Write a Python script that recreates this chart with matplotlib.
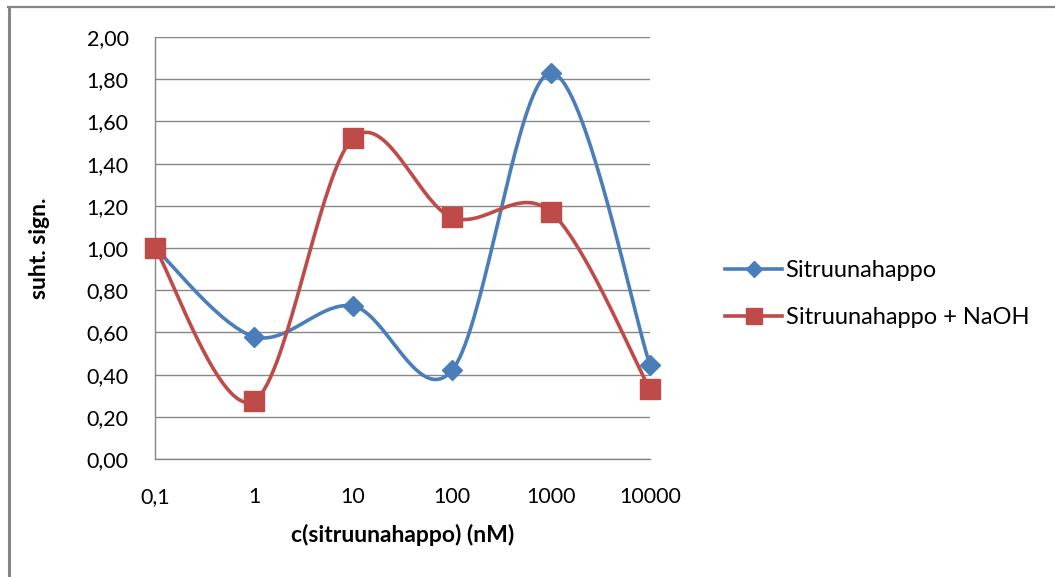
import numpy as np
import matplotlib
matplotlib.use("Agg")
import matplotlib.pyplot as plt
from matplotlib.lines import Line2D

categories = ["0,1", "1", "10", "100", "1000", "10000"]
sitruuna = [1.00, 0.58, 0.725, 0.42, 1.83, 0.445]
sitruuna_naoh = [1.00, 0.275, 1.52, 1.145, 1.17, 0.33]
y_ticks = [0.0, 0.2, 0.4, 0.6, 0.8, 1.0, 1.2, 1.4, 1.6, 1.8, 2.0]
series_names = ["Sitruunahappo", "Sitruunahappo + NaOH"]
x_label = "c(sitruunahappo) (nM)"
y_label = "suht. sign."

BLUE = "#4A7EBB"
RED = "#BE4B48"
GRID = "#868686"
FONT = "Lato"
TICK_FS = 15.5
LEG_FS = 17
LAB_FS = 16.5


def smooth(xs, ys, n=40):
    """Excel-like smoothing: Catmull-Rom converted to cubic Bezier."""
    P = np.column_stack([xs, ys]).astype(float)
    pts = []
    for i in range(len(P) - 1):
        p0 = P[i - 1] if i > 0 else P[i]
        p1 = P[i]
        p2 = P[i + 1]
        p3 = P[i + 2] if i + 2 < len(P) else P[i + 1]
        c1 = p1 + (p2 - p0) / 6.0
        c2 = p2 - (p3 - p1) / 6.0
        t = np.linspace(0, 1, n)[:, None]
        seg = ((1 - t) ** 3) * p1 + 3 * ((1 - t) ** 2) * t * c1 + 3 * (1 - t) * t ** 2 * c2 + t ** 3 * p2
        if i > 0:
            seg = seg[1:]
        pts.append(seg)
    pts = np.vstack(pts)
    return pts[:, 0], pts[:, 1]


W, H = 1055, 577
fig = plt.figure(figsize=(W / 100, H / 100), dpi=100)
fig.patch.set_facecolor("white")

ax = fig.add_axes([155 / W, 1 - 459 / H, 495 / W, 422 / H])
x = np.arange(len(categories))

for s in ["top", "right"]:
    ax.spines[s].set_visible(False)
for s in ["left", "bottom"]:
    ax.spines[s].set_color(GRID)
    ax.spines[s].set_linewidth(1.0)

ax.set_xlim(0, len(categories) - 1)
ax.set_ylim(0, 2.0)
ax.set_yticks(y_ticks)
ax.set_yticklabels([f"{v:.2f}".replace(".", ",") for v in y_ticks])
ax.set_xticks(x)
ax.set_xticklabels(categories)
ax.tick_params(axis="both", length=0, labelsize=TICK_FS, labelcolor="black")
ax.tick_params(axis="y", pad=19)
ax.tick_params(axis="x", pad=20)
for lab in ax.get_xticklabels() + ax.get_yticklabels():
    lab.set_fontfamily(FONT)

ax.grid(axis="y", color=GRID, linewidth=1.0)
ax.set_axisbelow(True)

sx, sy = smooth(x, sitruuna)
rx, ry = smooth(x, sitruuna_naoh)
ax.plot(sx, sy, color=BLUE, lw=2.6, solid_capstyle="round", clip_on=False, zorder=3)
ax.plot(x, sitruuna, ls="none", marker="D", ms=10.5, color=BLUE, clip_on=False, zorder=4)
ax.plot(rx, ry, color=RED, lw=2.6, solid_capstyle="round", clip_on=False, zorder=3)
ax.plot(x, sitruuna_naoh, ls="none", marker="s", ms=14, color=RED, clip_on=False, zorder=5)

ax.set_xlabel(x_label, fontsize=LAB_FS, fontweight="bold", fontfamily=FONT, labelpad=12)
ax.set_ylabel(y_label, fontsize=LAB_FS, fontweight="bold", fontfamily=FONT, labelpad=26)

handles = [
    Line2D([], [], color=BLUE, lw=2.6, marker="D", ms=8),
    Line2D([], [], color=RED, lw=2.6, marker="s", ms=11),
]
fig.legend(handles, series_names, loc="center left",
           bbox_to_anchor=(716 / W, 1 - 294 / H), frameon=False,
           prop={"family": FONT, "size": LEG_FS}, handlelength=2.4,
           handletextpad=0.15, labelspacing=1.1, borderaxespad=0)

# outer chart border (only top and left visible)
fig.add_artist(Line2D([8.5 / W, 8.5 / W], [0, 1 - 6.5 / H], color=GRID, lw=2.2,
                      transform=fig.transFigure))
fig.add_artist(Line2D([7.5 / W, 1], [1 - 6.5 / H, 1 - 6.5 / H], color=GRID, lw=1.6,
                      transform=fig.transFigure))

fig.savefig("out.png", dpi=100)
